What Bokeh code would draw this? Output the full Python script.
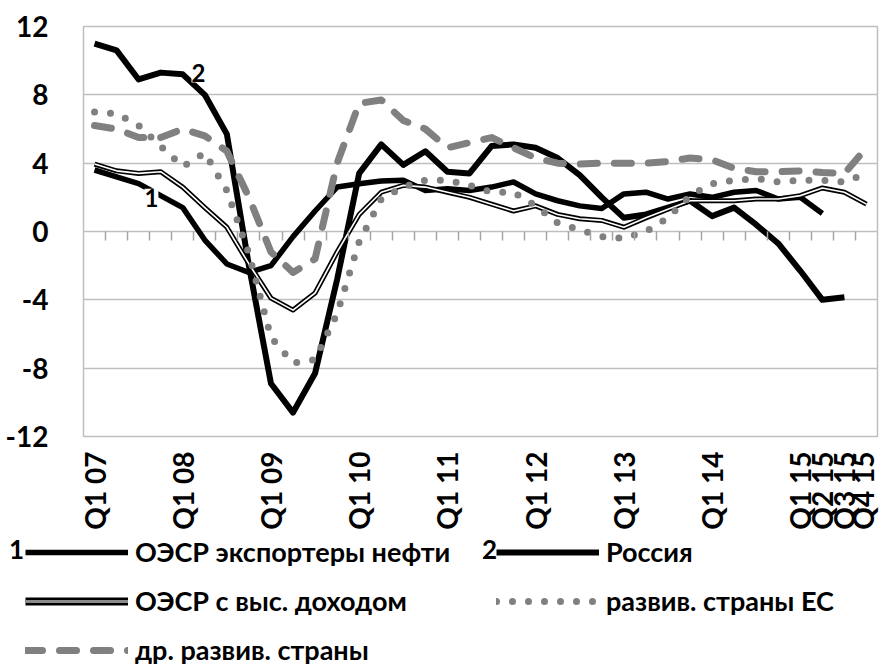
import math
from bokeh.plotting import figure
from bokeh.layouts import column
from bokeh.models import (Range1d, FixedTicker, LinearAxis, Legend, LegendItem, Label)
from bokeh.embed import file_html
from bokeh.resources import INLINE

nan = float("nan")

quarters = ["Q1 07", "Q2 07", "Q3 07", "Q4 07", "Q1 08", "Q2 08", "Q3 08", "Q4 08",
            "Q1 09", "Q2 09", "Q3 09", "Q4 09", "Q1 10", "Q2 10", "Q3 10", "Q4 10",
            "Q1 11", "Q2 11", "Q3 11", "Q4 11", "Q1 12", "Q2 12", "Q3 12", "Q4 12",
            "Q1 13", "Q2 13", "Q3 13", "Q4 13", "Q1 14", "Q2 14", "Q3 14", "Q4 14",
            "Q1 15", "Q2 15", "Q3 15", "Q4 15"]
shown_labels = ["Q1 07", "Q1 08", "Q1 09", "Q1 10", "Q1 11", "Q1 12", "Q1 13", "Q1 14",
                "Q1 15", "Q2 15", "Q3 15", "Q4 15"]

oecd_oil_exporters = [3.6, 3.2, 2.8, 2.1, 1.4, -0.5, -1.9, -2.4, -2.0, -0.3, 1.2, 2.6,
                      2.8, 2.95, 3.0, 2.4, 2.5, 2.4, 2.6, 2.9, 2.2, 1.8, 1.5, 1.35,
                      2.2, 2.3, 1.9, 2.2, 2.0, 2.3, 2.4, 1.9, 2.0, 1.05, nan, nan]
russia = [11.0, 10.6, 8.9, 9.3, 9.2, 8.0, 5.7, -2.0, -8.9, -10.6, -8.3, -2.8,
          3.4, 5.1, 3.9, 4.7, 3.5, 3.4, 5.0, 5.1, 4.9, 4.3, 3.3, 2.0,
          0.8, 1.0, 1.4, 1.8, 0.9, 1.4, 0.4, -0.7, -2.3, -4.0, -3.85, nan]
oecd_high_income = [3.95, 3.55, 3.4, 3.5, 2.6, 1.4, 0.25, -1.9, -3.9, -4.6, -3.6, -1.2,
                    1.0, 2.3, 2.7, 2.6, 2.3, 2.0, 1.6, 1.2, 1.5, 1.0, 0.75, 0.65,
                    0.25, 0.8, 1.3, 1.8, 1.8, 1.8, 1.9, 1.9, 2.1, 2.55, 2.3, 1.6]
eu_developed = [7.0, 6.9, 6.2, 5.0, 3.8, 4.6, 2.4, -1.3, -6.2, -7.7, -7.5, -4.8,
                -0.6, 1.9, 2.6, 3.0, 3.0, 2.7, 2.3, 2.3, 1.5, 0.5, 0.1, -0.3,
                -0.4, 0.0, 0.8, 2.1, 2.8, 3.0, 3.1, 2.9, 3.0, 3.0, 2.9, 3.4]
other_developed = [6.2, 6.0, 5.5, 5.5, 6.0, 5.6, 4.7, 2.0, -1.2, -2.4, -1.6, 4.0,
                   7.5, 7.7, 6.5, 6.0, 4.9, 5.2, 5.5, 4.9, 4.3, 4.0, 3.95, 4.0,
                   4.0, 4.0, 4.1, 4.3, 4.2, 3.7, 3.5, 3.5, 3.55, 3.45, 3.4, 4.9]

names = ["ОЭСР экспортеры нефти", "Россия", "ОЭСР с выс. доходом",
         "развив. страны ЕС", "др. развив. страны"]
series_numbers = ["1", "2", "", "", ""]
y_ticks = [-12, -8, -4, 0, 4, 8, 12]

x = list(range(len(quarters)))
FONT = "Lato"
GRID = "#bfbfbf"
GRAY = "#808080"

W = 879
H_MAIN = 532
H_LEG = 667 - H_MAIN

p = figure(width=W, height=H_MAIN, output_backend="svg", toolbar_location=None,
           x_range=Range1d(-0.5, len(quarters) - 0.5), y_range=Range1d(-12, 12),
           min_border_left=83, min_border_right=2, min_border_top=26, min_border_bottom=96)
p.frame_align = False
p.background_fill_color = "white"
p.border_fill_color = "white"
p.outline_line_color = GRID
p.outline_line_width = 1.5
p.xgrid.grid_line_color = None
p.ygrid.ticker = FixedTicker(ticks=y_ticks)
p.ygrid.grid_line_color = GRID
p.ygrid.grid_line_width = 1.5

# y axis
p.yaxis.ticker = FixedTicker(ticks=y_ticks)
p.yaxis.major_label_overrides = {v: str(v) for v in y_ticks}
p.yaxis.axis_line_color = None
p.yaxis.major_tick_line_color = None
p.yaxis.minor_tick_line_color = None
p.yaxis.major_label_standoff = 29
p.yaxis.major_label_text_font = FONT
p.yaxis.major_label_text_font_style = "bold"
p.yaxis.major_label_text_font_size = "28px"
p.yaxis.major_label_text_color = "black"

# x axis (labels at bottom)
tick_pos = [quarters.index(q_) for q_ in shown_labels]
p.xaxis.ticker = FixedTicker(ticks=tick_pos)
p.xaxis.major_label_overrides = {quarters.index(q_): q_ for q_ in shown_labels}
p.xaxis.major_label_orientation = math.pi / 2
p.xaxis.axis_line_color = None
p.xaxis.major_tick_line_color = None
p.xaxis.minor_tick_line_color = None
p.xaxis.major_label_standoff = 9
p.xaxis.major_label_text_font = FONT
p.xaxis.major_label_text_font_style = "bold"
p.xaxis.major_label_text_font_size = "28px"
p.xaxis.major_label_text_color = "black"

# category tick marks hanging below the zero line
bounds = [i + 0.5 for i in x[:-1]]
zero_axis = LinearAxis(fixed_location=0, ticker=FixedTicker(ticks=bounds),
                       major_label_overrides={b: "" for b in bounds},
                       axis_line_color=None, major_tick_in=9, major_tick_out=0,
                       major_label_standoff=0,
                       major_tick_line_color="#a6a6a6", major_tick_line_width=1.5,
                       minor_tick_line_color=None)
p.add_layout(zero_axis, "above")

STYLES = [
    [dict(line_color="black", line_width=5.5, line_join="round")],
    [dict(line_color="black", line_width=6, line_join="round")],
    [dict(line_color="black", line_width=5, line_join="round"),
     dict(line_color="white", line_width=1.6, line_join="round")],
    [dict(line_color=GRAY, line_width=7, line_dash="0 16", line_cap="round")],
    [dict(line_color=GRAY, line_width=7, line_dash="17 17", line_cap="round", line_join="round")],
]
LEGEND_STYLES = [
    STYLES[0], STYLES[1],
    [dict(line_color="black", line_width=8), dict(line_color="#8c8c8c", line_width=3)],
    STYLES[3], STYLES[4],
]
series = [oecd_oil_exporters, russia, oecd_high_income, eu_developed, other_developed]
for vals, styles in zip(series, STYLES):
    for st in styles:
        p.line(x, vals, **st)

# in-plot series numbers
for txt, xx, yy in [("1", 2.58, 1.98), ("2", 4.71, 9.25)]:
    p.add_layout(Label(x=xx, y=yy, text=txt, text_align="center", text_baseline="middle",
                       text_font=FONT, text_font_style="bold", text_font_size="24px",
                       background_fill_color="white", text_color="black"))

# legend figure (series placed outside its visible range, only legend glyphs show)
q = figure(width=W, height=H_LEG, output_backend="svg", toolbar_location=None,
           x_axis_type=None, y_axis_type=None, min_border=0,
           min_border_left=0, min_border_right=0, min_border_top=0, min_border_bottom=0,
           x_range=Range1d(1000, 1001), y_range=Range1d(1000, 1001))
q.frame_align = False
q.outline_line_color = None
q.background_fill_color = "white"
q.border_fill_color = "white"
q.xgrid.visible = False
q.ygrid.visible = False
items = []
for name, vals, styles in zip(names, series, LEGEND_STYLES):
    rs = [q.line(x, vals, **st) for st in styles]
    items.append(LegendItem(label=name, renderers=rs))

LEG_LEFT = 25
LEG_TOP = 0
ITEM_H = 34
SPACING = 16
GLYPH_W = 103
STANDOFF = 7
LABEL_W = 345
legend = Legend(items=items, location=(LEG_LEFT, H_LEG - LEG_TOP - (3 * ITEM_H + 2 * SPACING)),
                orientation="horizontal", ncols=2,
                glyph_width=GLYPH_W, glyph_height=20, label_standoff=STANDOFF, spacing=SPACING,
                padding=0, margin=0, label_width=LABEL_W,
                label_text_font=FONT, label_text_font_style="bold", label_text_font_size="27px",
                label_text_color="black", border_line_color=None, background_fill_alpha=0)
q.add_layout(legend)

col_x = [LEG_LEFT - 9, LEG_LEFT + GLYPH_W + STANDOFF + LABEL_W + SPACING - 7]
for k, num in enumerate(series_numbers):
    if num:
        q.add_layout(Label(x=col_x[k % 2], y=H_LEG - LEG_TOP - ITEM_H / 2, x_units="screen",
                           y_units="screen", text=num, text_align="center",
                           text_baseline="middle", text_font=FONT, text_font_style="bold",
                           text_font_size="26px", text_color="black"))

open("out.html", "w").write(file_html(column(p, q), INLINE))
